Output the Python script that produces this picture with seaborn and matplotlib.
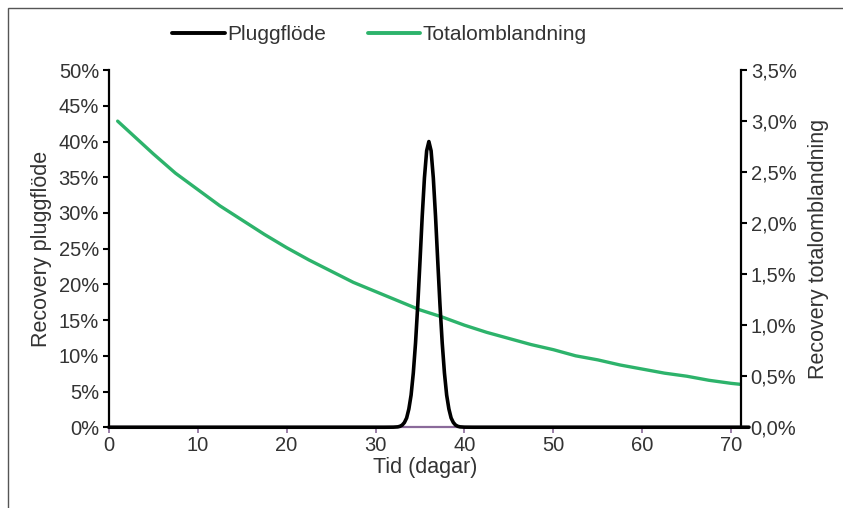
import numpy as np
import pandas as pd
import matplotlib.pyplot as plt
import seaborn as sb
from matplotlib.patches import Rectangle
from matplotlib.lines import Line2D
from matplotlib.ticker import FuncFormatter, MultipleLocator

# Plug flow: a narrow pulse around day 36 (recovery, %)
plug_days = [0, 31, 32, 32.5, 32.75, 33, 33.25, 33.5, 33.75, 34, 34.25, 34.5, 34.75, 35, 35.25, 35.5, 35.75,
             36, 36.25, 36.5, 36.75, 37, 37.25, 37.5, 37.75, 38, 38.25, 38.5, 38.75, 39, 39.25, 39.5, 40, 41, 72]
plug_recovery = [0, 0, 0.01, 0.05, 0.13, 0.3, 0.66, 1.3, 2.56, 4.5, 7.6, 11.8, 17.1, 23.2, 29.5, 34.9, 38.7,
                 40.0, 38.7, 34.9, 29.5, 23.2, 17.1, 11.8, 7.6, 4.5, 2.56, 1.3, 0.66, 0.3, 0.13, 0.05, 0.01, 0, 0]

# Total mixing: slowly decaying recovery (%)
mix_days = [1, 2.5, 5, 7.5, 10, 12.5, 15, 17.5, 20, 22.5, 25, 27.5, 30, 32.5, 35, 37.5,
            40, 42.5, 45, 47.5, 50, 52.5, 55, 57.5, 60, 62.5, 65, 67.5, 70, 71.1]
mix_recovery = [3.00, 2.88, 2.68, 2.49, 2.33, 2.17, 2.03, 1.89, 1.76, 1.64, 1.53, 1.42, 1.33, 1.24, 1.15, 1.08,
                1.00, 0.93, 0.87, 0.81, 0.76, 0.70, 0.66, 0.61, 0.57, 0.53, 0.50, 0.46, 0.43, 0.42]

plug = pd.DataFrame({'day': plug_days, 'recovery': plug_recovery})
mix = pd.DataFrame({'day': mix_days, 'recovery': mix_recovery})

sb.set_style('white')
plt.rcParams['font.family'] = ['Liberation Sans', 'DejaVu Sans']
plt.rcParams['font.size'] = 14.5
text_color = '#333333'
plt.rcParams['text.color'] = text_color
plt.rcParams['axes.labelcolor'] = text_color

fig = plt.figure(figsize=(8.43, 5.08), dpi=100)
ax = fig.add_axes([0.129, 0.159, 0.750, 0.703])
ax2 = ax.twinx()

green = '#2db36b'
purple = '#8a6a9a'

sb.lineplot(data=mix, x='day', y='recovery', ax=ax2, color=green, linewidth=2.4)
sb.lineplot(data=plug, x='day', y='recovery', ax=ax, color='black', linewidth=2.6,
            zorder=3, clip_on=False)

# Left axis drawn above the right one so the black pulse sits on top
ax.set_zorder(ax2.get_zorder() + 1)
ax.patch.set_visible(False)

ax.set_xlim(0, 71.1)
ax.set_ylim(0, 50)
ax2.set_ylim(0, 3.5)
ax.xaxis.set_major_locator(MultipleLocator(10))
ax.yaxis.set_major_locator(MultipleLocator(5))
ax2.yaxis.set_major_locator(MultipleLocator(0.5))
ax.yaxis.set_major_formatter(FuncFormatter(lambda v, p: f'{v:.0f}%'))
ax2.yaxis.set_major_formatter(FuncFormatter(lambda v, p: f'{v:.1f}%'.replace('.', ',')))

for a in (ax, ax2):
    for s in a.spines.values():
        s.set_linewidth(1.6)
    a.spines['top'].set_visible(False)
ax2.spines['bottom'].set_visible(False)
ax.spines['bottom'].set_color(purple)
ax.spines['bottom'].set_zorder(1)
ax.spines['left'].set_color('black')
ax2.spines['right'].set_color('black')
ax2.spines['left'].set_visible(False)
ax.spines['right'].set_visible(False)

ax.tick_params(axis='x', direction='out', length=4, width=1.2, color=purple, bottom=True, pad=2,
               labelcolor=text_color)
ax.tick_params(axis='y', direction='out', length=4, width=1.5, color='black', left=True, pad=3,
               labelcolor=text_color)
ax2.tick_params(axis='y', direction='out', length=4, width=1.5, color='black', right=True, pad=3,
                labelcolor=text_color)

ax.set_xlabel('Tid (dagar)', fontsize=15.5, labelpad=2)
ax.set_ylabel('Recovery pluggflöde', fontsize=15.5, labelpad=5)
ax2.set_ylabel('Recovery totalomblandning', fontsize=15.5, labelpad=8)
ax.grid(False)
ax2.grid(False)

handles = [Line2D([], [], color='black', linewidth=2.8),
           Line2D([], [], color=green, linewidth=2.8)]
fig.legend(handles, ['Pluggflöde', 'Totalomblandning'], loc='center',
           bbox_to_anchor=(0.45, 0.932), ncol=2, frameon=False, fontsize=15,
           handlelength=2.5, handletextpad=0.12, columnspacing=2.0)

# Outer chart frame
fig.patches.append(Rectangle((8 / 843, -0.05), 1.1, 1 - 8 / 508 + 0.05,
                             transform=fig.transFigure, fill=False,
                             edgecolor='#555555', linewidth=1.0))

fig.savefig('out.png', dpi=100)
